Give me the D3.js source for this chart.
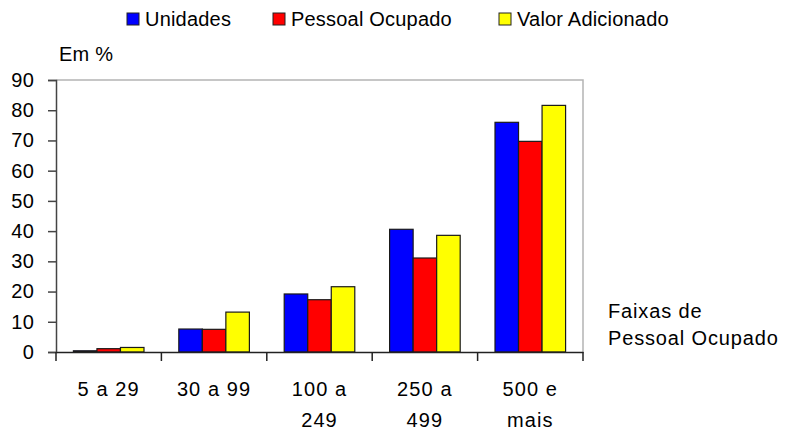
<!DOCTYPE html>
<html>
<head>
<meta charset="utf-8">
<script src="https://cdn.jsdelivr.net/npm/d3@7"></script>
<style>
  body { margin: 0; background: #fff; }
  svg text { font-family: "Liberation Sans", Arial, sans-serif; fill: #000; }
</style>
</head>
<body>
<div id="svg-container"></div>
<script>
////////////////////////////  Data  ////////////////////////////
const categories = [["5 a 29"], ["30 a 99"], ["100 a", "249"], ["250 a", "499"], ["500 e", "mais"]];
const series = ["Unidades", "Pessoal Ocupado", "Valor Adicionado"];
const unidades = [0.4, 7.6, 19.2, 40.6, 76.0];
const pessoal = [1.1, 7.5, 17.3, 31.1, 69.7];
const valor = [1.5, 13.2, 21.6, 38.6, 81.6];
const yTicks = [0, 10, 20, 30, 40, 50, 60, 70, 80, 90];
const colors = ["#0000ff", "#ff0000", "#ffff00"];

const width = 787, height = 430;
const margin = { top: 80, right: 204, bottom: 78, left: 56 };

const svg = d3.select("#svg-container").append("svg")
  .attr("width", width).attr("height", height);

const catKeys = categories.map((d) => d.join(" "));
const values = [unidades, pessoal, valor];

// scales
const x0 = d3.scaleBand().domain(catKeys)
  .range([margin.left, width - margin.right]).padding(0);
const x1 = d3.scaleBand().domain(series)
  .range([0, x0.bandwidth()]).paddingInner(0).paddingOuter(0.74);
const y = d3.scaleLinear().domain([0, 90])
  .range([height - margin.bottom, margin.top]);
const color = d3.scaleOrdinal().domain(series).range(colors);

// plot frame (top + right light grey)
svg.append("path")
  .attr("d", `M${margin.left},${margin.top}H${width - margin.right}V${height - margin.bottom}`)
  .attr("fill", "none").attr("stroke", "#b4b4b4").attr("stroke-width", 1.5);

// bars
const groups = svg.selectAll(".grp").data(catKeys).enter().append("g")
  .attr("transform", (d) => `translate(${x0(d)},0)`);

groups.selectAll("rect")
  .data((d, i) => series.map((s, j) => ({ s, v: values[j][i] })))
  .enter().append("rect")
  .attr("x", (d) => x1(d.s))
  .attr("y", (d) => y(d.v))
  .attr("width", x1.bandwidth())
  .attr("height", (d) => y(0) - y(d.v))
  .attr("fill", (d) => color(d.s))
  .attr("stroke", "#1a1a1a")
  .attr("stroke-width", 1.2);

// y axis
const yAxis = svg.append("g")
  .attr("transform", `translate(${margin.left},0)`)
  .call(d3.axisLeft(y).tickValues(yTicks).tickSize(8).tickPadding(14));
yAxis.select(".domain").attr("stroke", "#444").attr("stroke-width", 1.5);
yAxis.selectAll(".tick line").attr("stroke", "#444").attr("stroke-width", 1.5);
yAxis.selectAll(".tick text")
  .attr("font-size", 20).attr("letter-spacing", 0.2)
  .style("font-family", "Liberation Sans, Arial, sans-serif");

// x axis
const xAxis = svg.append("g")
  .attr("transform", `translate(0,${y(0)})`)
  .call(d3.axisBottom(x0).tickSize(0).tickFormat(""));
xAxis.select(".domain").attr("stroke", "#222").attr("stroke-width", 1.5);
xAxis.selectAll(".tick").remove();

// category separators
const seps = d3.range(catKeys.length + 1).map((i) =>
  i < catKeys.length ? x0(catKeys[i]) : x0(catKeys[i - 1]) + x0.bandwidth());
svg.selectAll(".sep").data(seps).enter().append("line")
  .attr("x1", (d) => d).attr("x2", (d) => d)
  .attr("y1", y(0)).attr("y2", y(0) + 9)
  .attr("stroke", "#222").attr("stroke-width", 1.5);

// category labels
svg.selectAll(".cat").data(categories).enter().append("text")
  .attr("text-anchor", "middle")
  .attr("font-size", 20).attr("letter-spacing", 1.1)
  .each(function (d, i) {
    const t = d3.select(this);
    d.forEach((line, k) => {
      t.append("tspan")
        .attr("x", x0(catKeys[i]) + x0.bandwidth() / 2)
        .attr("y", 396 + k * 31)
        .text(line);
    });
  });

// y label
svg.append("text").attr("x", 59).attr("y", 61)
  .attr("font-size", 20).attr("letter-spacing", 0.2).text("Em %");

// x label
svg.append("text").attr("font-size", 20).attr("letter-spacing", 0.85)
  .selectAll("tspan").data(["Faixas de", "Pessoal Ocupado"]).enter().append("tspan")
  .attr("x", 608).attr("y", (d, i) => 318 + i * 27).text((d) => d);

// legend
const legendX = [127, 273, 499];
const legend = svg.selectAll(".legend").data(series).enter().append("g")
  .attr("transform", (d, i) => `translate(${legendX[i]},13)`);
legend.append("rect")
  .attr("width", 12).attr("height", 12)
  .attr("fill", (d) => color(d))
  .attr("stroke", "#222").attr("stroke-width", 1);
legend.append("text")
  .attr("x", 18).attr("y", 12.5)
  .attr("font-size", 20).attr("letter-spacing", 0.2)
  .text((d) => d);
</script>
</body>
</html>
